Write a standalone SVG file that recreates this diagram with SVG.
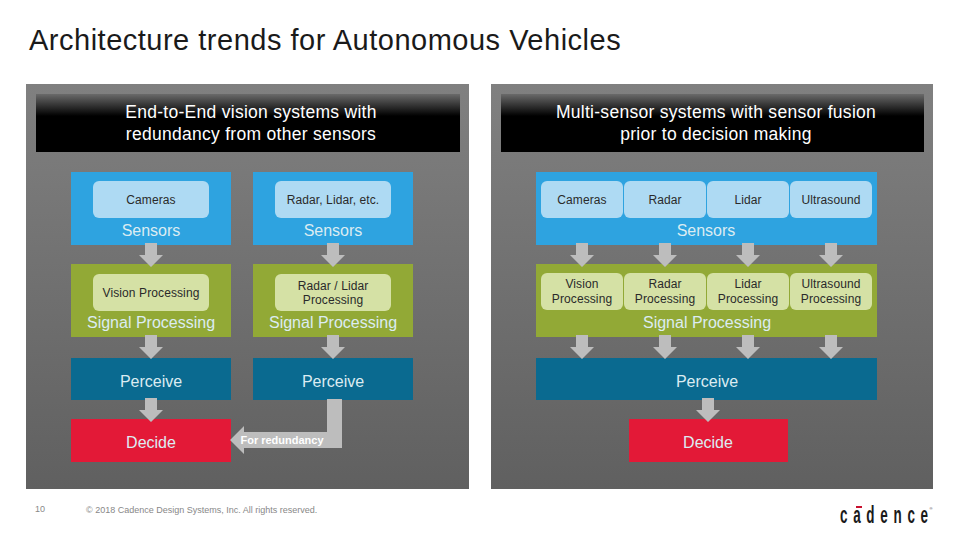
<svg xmlns="http://www.w3.org/2000/svg" width="960" height="540" viewBox="0 0 960 540">
<style>
text{font-family:"Liberation Sans",Arial,sans-serif;text-anchor:middle}
.hd{font-size:17.5px;fill:#fff;letter-spacing:.28px}
.lb{font-size:16px;fill:#dcecf2}
.sm{font-size:12px;fill:#2a2a2a;letter-spacing:.1px}
.bl{fill:#2ea3e0}.gr{fill:#92a936}.dk{fill:#0a6a90}.rd{fill:#e31937}
.ib{fill:#aedaf3}.ig{fill:#d5e1a5}
.ar{fill:#bdbdbd}
</style>
<defs>
<linearGradient id="pg" x1="0" y1="0" x2="0" y2="1"><stop offset="0" stop-color="#808080"/><stop offset="1" stop-color="#606060"/></linearGradient>
<linearGradient id="hg" x1="0" y1="0" x2="0" y2="1"><stop offset="0" stop-color="#6a6a6a"/><stop offset=".38" stop-color="#000"/><stop offset="1" stop-color="#000"/></linearGradient>
<path id="da" d="M-6 0H6V12H12L0 24L-12 12H-6Z"/>
</defs>
<rect width="960" height="540" fill="#fff"/>
<text x="29" y="50" style="text-anchor:start;font-size:29px;letter-spacing:.5px;fill:#1a1a1a">Architecture trends for Autonomous Vehicles</text>
<g id="panel-left">
<rect x="26" y="84" width="443" height="405" fill="url(#pg)"/>
<rect x="36" y="94" width="424" height="58" fill="url(#hg)"/>
<text class="hd" x="251" y="118">End-to-End vision systems with</text>
<text class="hd" x="251" y="140">redundancy from other sensors</text>
</g>
<g id="panel-right">
<rect x="491" y="84" width="442" height="405" fill="url(#pg)"/>
<rect x="501" y="94" width="423" height="58" fill="url(#hg)"/>
<text class="hd" x="716" y="118">Multi-sensor systems with sensor fusion</text>
<text class="hd" x="716" y="140">prior to decision making</text>
</g>
<g id="l-sensors-1"><rect class="bl" x="71" y="172" width="160" height="73"/><rect class="ib" x="93" y="181" width="116" height="37" rx="6"/><text class="sm" x="151" y="204">Cameras</text><text class="lb" x="151" y="236">Sensors</text></g>
<g id="l-sensors-2"><rect class="bl" x="253" y="172" width="160" height="73"/><rect class="ib" x="275" y="181" width="116" height="37" rx="6"/><text class="sm" x="333" y="204">Radar, Lidar, etc.</text><text class="lb" x="333" y="236">Sensors</text></g>
<g id="l-signal-1"><rect class="gr" x="71" y="264" width="160" height="73"/><rect class="ig" x="93" y="274" width="116" height="37" rx="6"/><text class="sm" x="151" y="297">Vision Processing</text><text class="lb" x="151" y="328">Signal Processing</text></g>
<g id="l-signal-2"><rect class="gr" x="253" y="264" width="160" height="73"/><rect class="ig" x="275" y="274" width="116" height="37" rx="6"/><text class="sm" x="333" y="290">Radar / Lidar</text><text class="sm" x="333" y="304">Processing</text><text class="lb" x="333" y="328">Signal Processing</text></g>
<g id="l-perceive-1"><rect class="dk" x="71" y="358" width="160" height="42"/><text class="lb" x="151" y="387">Perceive</text></g>
<g id="l-perceive-2"><rect class="dk" x="253" y="358" width="160" height="42"/><text class="lb" x="333" y="387">Perceive</text></g>
<g id="l-decide"><rect class="rd" x="71" y="419" width="160" height="43"/><text class="lb" x="151" y="448">Decide</text></g>
<g id="r-sensors"><rect class="bl" x="536" y="172" width="341" height="73"/>
<rect class="ib" x="541" y="181" width="82" height="37" rx="6"/><rect class="ib" x="624" y="181" width="82" height="37" rx="6"/><rect class="ib" x="707" y="181" width="82" height="37" rx="6"/><rect class="ib" x="790" y="181" width="82" height="37" rx="6"/>
<text class="sm" x="582" y="204">Cameras</text><text class="sm" x="665" y="204">Radar</text><text class="sm" x="748" y="204">Lidar</text><text class="sm" x="831" y="204">Ultrasound</text><text class="lb" x="706" y="236">Sensors</text></g>
<g id="r-signal"><rect class="gr" x="536" y="264" width="341" height="73"/>
<rect class="ig" x="541" y="273" width="82" height="37" rx="6"/><rect class="ig" x="624" y="273" width="82" height="37" rx="6"/><rect class="ig" x="707" y="273" width="82" height="37" rx="6"/><rect class="ig" x="790" y="273" width="82" height="37" rx="6"/>
<text class="sm" x="582" y="288">Vision</text><text class="sm" x="582" y="303">Processing</text><text class="sm" x="665" y="288">Radar</text><text class="sm" x="665" y="303">Processing</text><text class="sm" x="748" y="288">Lidar</text><text class="sm" x="748" y="303">Processing</text><text class="sm" x="831" y="288">Ultrasound</text><text class="sm" x="831" y="303">Processing</text><text class="lb" x="707" y="328">Signal Processing</text></g>
<g id="r-perceive"><rect class="dk" x="536" y="358" width="341" height="42"/><text class="lb" x="707" y="387">Perceive</text></g>
<g id="r-decide"><rect class="rd" x="629" y="419" width="159" height="43"/><text class="lb" x="708" y="448">Decide</text></g>
<g id="connectors" class="ar">
<use href="#da" x="151" y="243"/><use href="#da" x="333" y="243"/>
<use href="#da" x="151" y="335"/><use href="#da" x="333" y="335"/>
<use href="#da" x="151" y="398"/>
<path d="M327 399H342V448H244V454L230 440L244 426V432H327Z"/>
<use href="#da" x="582" y="243"/><use href="#da" x="665" y="243"/><use href="#da" x="748" y="243"/><use href="#da" x="831" y="243"/>
<use href="#da" x="582" y="335"/><use href="#da" x="665" y="335"/><use href="#da" x="748" y="335"/><use href="#da" x="831" y="335"/>
<use href="#da" x="708" y="398"/>
</g>
<text x="282" y="444" style="font-size:11px;font-weight:bold;fill:#fff">For redundancy</text>
<text x="40" y="512" style="font-size:9px;fill:#888">10</text>
<text x="86" y="513" style="text-anchor:start;font-size:9px;fill:#888">© 2018 Cadence Design Systems, Inc. All rights reserved.</text>
<g id="logo"><rect x="856" y="506" width="6" height="2" fill="#c8102e"/>
<text transform="translate(840 523) scale(.56 1)" style="text-anchor:start;font-size:24px;font-weight:bold;letter-spacing:10.2px;fill:#1a1a1a">cadenc<tspan style="letter-spacing:0">e</tspan></text>
<text x="931" y="510" style="font-size:4px;fill:#333">®</text></g>
</svg>
